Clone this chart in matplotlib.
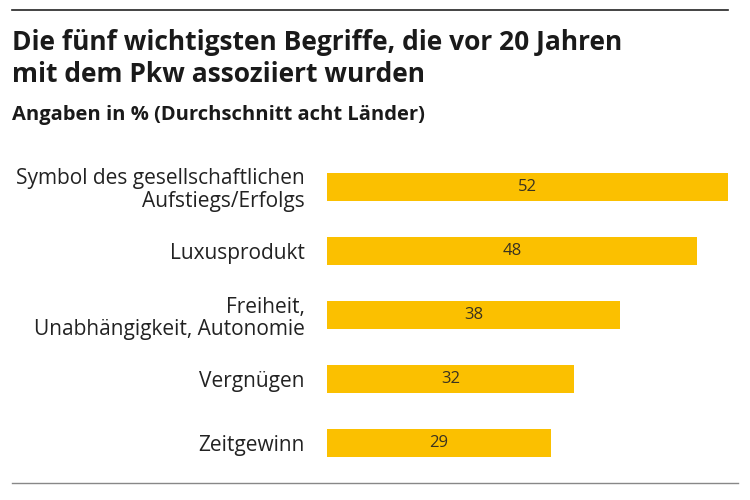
import numpy as np
import matplotlib.pyplot as plt
from matplotlib.lines import Line2D

plt.rcParams['font.family'] = ['Open Sans', 'DejaVu Sans']

# data
labels = ['Symbol des gesellschaftlichen\nAufstiegs/Erfolgs', 'Luxusprodukt',
          'Freiheit,\nUnabhängigkeit, Autonomie', 'Vergnügen', 'Zeitgewinn']
values = [52, 48, 38, 32, 29]
title_lines = ['Die fünf wichtigsten Begriffe, die vor 20 Jahren',
               'mit dem Pkw assoziiert wurden']
subtitle = 'Angaben in % (Durchschnitt acht Länder)'

fig = plt.figure(figsize=(7.5, 5), dpi=100)
ax = fig.add_axes([327/750, 0.05, (728-327)/750, 0.64])

y = np.arange(len(values))
ax.barh(y, values, height=0.45, color='#FBC000')
ax.set_xlim(0, 52)
ax.set_ylim(4.5, -0.5)
for i, v in enumerate(values):
    ax.text(v/2, i, str(v), ha='center', va='center', fontsize=12, color='#3a3320')

ax.set_yticks(y)
ax.set_yticklabels(labels, fontsize=15, color='#222222', linespacing=1.1)
ax.tick_params(axis='y', length=0, pad=16)
ax.set_xticks([])
for s in ax.spines.values():
    s.set_visible(False)

# title, subtitle, rules
fig.text(12/750, 1-42/500, title_lines[0], fontsize=19, fontweight='bold',
         color='#1a1a1a', va='center')
fig.text(12/750, 1-75/500, title_lines[1], fontsize=19, fontweight='bold',
         color='#1a1a1a', va='center')
fig.text(12/750, 1-115/500, subtitle, fontsize=14.5, fontweight='bold',
         color='#1a1a1a', va='center')
fig.add_artist(Line2D([12/750, 728/750], [1-10/500, 1-10/500], color='#222222', lw=1.2))
fig.add_artist(Line2D([12/750, 738/750], [1-483/500, 1-483/500], color='#888888', lw=1))

plt.savefig('out.png', dpi=100)
